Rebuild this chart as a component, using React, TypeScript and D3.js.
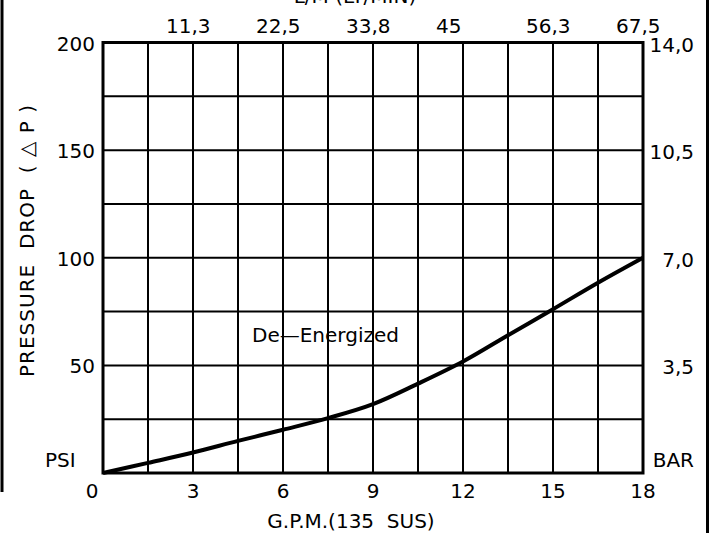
import React from "react";
import * as d3 from "d3";

const gpmValues = [0, 1.5, 3, 4.5, 6, 7.5, 9, 10.5, 12, 13.5, 15, 16.5, 18];
const psiValues = [0, 4.7, 9.5, 14.9, 20.1, 25.5, 32, 41.5, 51.8, 64, 76.1, 88.4, 100];

const xTicks = [0, 3, 6, 9, 12, 15, 18];
const xTickLabels = ["0", "3", "6", "9", "12", "15", "18"];
const topTicks = [3, 6, 9, 12, 15, 18];
const topTickLabels = ["11,3", "22,5", "33,8", "45", "56,3", "67,5"];
const yTicks = [50, 100, 150, 200];
const yTickLabels = ["50", "100", "150", "200"];
const barTickLabels = ["3,5", "7,0", "10,5", "14,0"];

const W = 714;
const H = 533;
const FONT = "'DejaVu Sans', sans-serif";

export default function App() {
  const x = d3.scaleLinear().domain([0, 18]).range([103, 643]);
  const y = d3.scaleLinear().domain([0, 200]).range([473, 42.5]);
  const vGrid = d3.range(0, 18.01, 1.5);
  const hGrid = d3.range(0, 200.01, 25);
  const line = d3
    .line<number>()
    .x((_, i) => x(gpmValues[i]))
    .y((d) => y(d))
    .curve(d3.curveCatmullRom.alpha(0.5));

  const txt = { fontFamily: FONT, fontSize: 20, fontWeight: 400, fill: "#000" } as const;

  return (
    <svg width={W} height={H} style={{ position: "absolute", left: 0, top: 0, background: "#fff" }}>
      <rect x={0} y={0} width={W} height={H} fill="#fff" />
      {/* outer frame pieces */}
      <line x1={2} y1={0} x2={2} y2={492} stroke="#000" strokeWidth={3} />
      <line x1={707.5} y1={0} x2={707.5} y2={H} stroke="#000" strokeWidth={3} />

      {/* grid */}
      {vGrid.map((g) => (
        <line key={"v" + g} x1={x(g)} x2={x(g)} y1={y(0)} y2={y(200)} stroke="#000" strokeWidth={2} />
      ))}
      {hGrid.map((g) => (
        <line key={"h" + g} x1={x(0)} x2={x(18)} y1={y(g)} y2={y(g)} stroke="#000" strokeWidth={2} />
      ))}
      <rect x={x(0)} y={y(200)} width={x(18) - x(0)} height={y(0) - y(200)} fill="none" stroke="#000" strokeWidth={3} />

      {/* curve */}
      <path d={line(psiValues) || ""} fill="none" stroke="#000" strokeWidth={4} strokeLinejoin="round" />

      {/* bottom ticks */}
      {xTicks.map((t, i) => (
        <text key={"xt" + t} x={t === 0 ? x(t) - 11 : x(t)} y={498} textAnchor="middle" {...txt}>
          {xTickLabels[i]}
        </text>
      ))}
      {/* top ticks */}
      {topTicks.map((t, i) => (
        <text key={"tt" + t} x={x(t) - 27} y={33} textAnchor="start" {...txt}>
          {topTickLabels[i]}
        </text>
      ))}
      {/* left ticks */}
      {yTicks.map((t, i) => (
        <text key={"yt" + t} x={95} y={y(t) + 8} textAnchor="end" {...txt}>
          {yTickLabels[i]}
        </text>
      ))}
      {/* right ticks */}
      {yTicks.map((t, i) => (
        <text key={"rt" + t} x={694} y={y(t) + 9} textAnchor="end" {...txt}>
          {barTickLabels[i]}
        </text>
      ))}

      <text x={45} y={467} {...txt}>PSI</text>
      <text x={694} y={467} textAnchor="end" {...txt}>BAR</text>

      <text x={351} y={528} textAnchor="middle" {...txt} style={{ whiteSpace: "pre" }}>
        {"G.P.M.(135  SUS)"}
      </text>
      <text x={355} y={3} textAnchor="middle" {...txt} style={{ whiteSpace: "pre" }}>
        {"L/M (LT/MIN)"}
      </text>

      <text
        transform={`translate(34,241) rotate(-90)`}
        textAnchor="middle"
        {...txt}
        style={{ whiteSpace: "pre" }}
        textLength={272}
        lengthAdjust="spacing"
      >
        {"PRESSURE  DROP  ( \u25B3 P )"}
      </text>

      <text x={252} y={342} {...txt}>De—Energized</text>
    </svg>
  );
}
